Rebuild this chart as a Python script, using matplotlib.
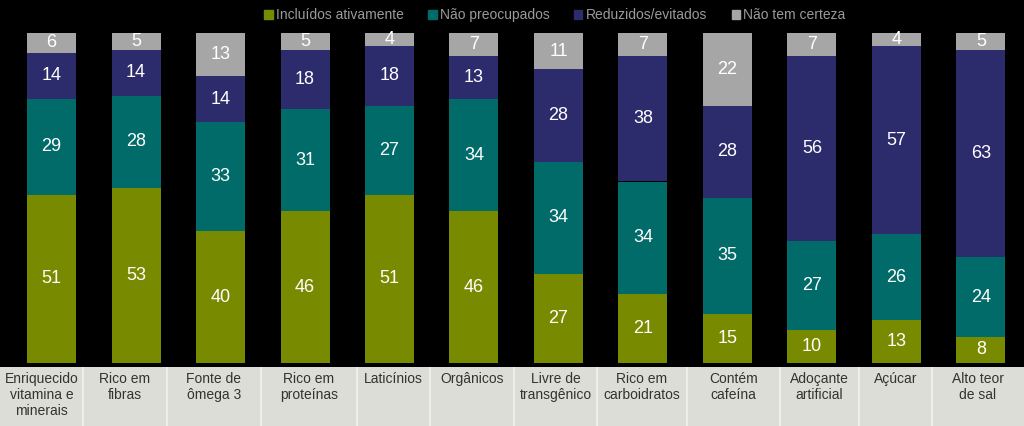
import matplotlib.pyplot as plt
from matplotlib.patches import Rectangle

plt.rcParams['font.family'] = ['Liberation Sans', 'DejaVu Sans']

# dados
categorias = ['Enriquecido\nvitamina e\nminerais', 'Rico em\nfibras', 'Fonte de\nômega 3',
              'Rico em\nproteínas', 'Laticínios', 'Orgânicos', 'Livre de\ntransgênico',
              'Rico em\ncarboidratos', 'Contém\ncafeína', 'Adoçante\nartificial',
              'Açúcar', 'Alto teor\nde sal']
incluidos = [51, 53, 40, 46, 51, 46, 27, 21, 15, 10, 13, 8]
nao_preocupados = [29, 28, 33, 31, 27, 34, 34, 34, 35, 27, 26, 24]
reduzidos = [14, 14, 14, 18, 18, 13, 28, 38, 28, 56, 57, 63]
nao_certeza = [6, 5, 13, 5, 4, 7, 11, 7, 22, 7, 4, 5]

series = [('Incluídos ativamente', incluidos, '#788a00'),
          ('Não preocupados', nao_preocupados, '#006b69'),
          ('Reduzidos/evitados', reduzidos, '#2c2b6c'),
          ('Não tem certeza', nao_certeza, '#a6a6a6')]

# bordas das células da tabela de rótulos (pixels)
bordas = [0, 83, 167, 261, 357, 430, 514, 597, 687, 780, 859, 932, 1024]

W, H = 1024, 426
fig = plt.figure(figsize=(W / 100, H / 100), dpi=100, facecolor='black')

ax = fig.add_axes([0, (H - 363) / H, 1, 330 / H])
ax.set_facecolor('black')
x = range(len(categorias))
base = [0] * len(categorias)
for nome, vals, cor in series:
    bars = ax.bar(x, vals, width=0.58, bottom=base, color=cor, label=nome)
    for b, v in zip(bars, vals):
        ax.text(b.get_x() + b.get_width() / 2, b.get_y() + v / 2, str(v),
                ha='center', va='center', color='white', fontsize=13)
    base = [a + b for a, b in zip(base, vals)]
ax.set_xlim(-0.61, 11.51)
ax.set_ylim(0, 100)
ax.axis('off')

# faixa cinza com os rótulos
axl = fig.add_axes([0, 0, 1, 59 / H])
axl.set_facecolor('#dcddd7')
axl.set_xlim(0, W)
axl.set_ylim(0, 59)
for s in axl.spines.values():
    s.set_visible(False)
axl.set_xticks([])
axl.set_yticks([])
for b in bordas[1:-1]:
    axl.axvline(b, color='#f2f2ee', lw=1.2)
for i, cat in enumerate(categorias):
    cx = (bordas[i] + bordas[i + 1]) / 2
    axl.text(cx, 54, cat, ha='center', va='top', fontsize=10, color='#333333',
             linespacing=1.2)

# legenda
handles = [Rectangle((0, 0), 1, 1, color=c) for _, _, c in series]
fig.legend(handles, [n for n, _, _ in series], loc='upper center',
           bbox_to_anchor=(555 / W, 1.01), ncol=4, frameon=False,
           handlelength=0.6, handleheight=0.6, handletextpad=0.25,
           columnspacing=1.75, fontsize=10, labelcolor='#9a9a9a')

plt.savefig('out.png', dpi=100, facecolor='black')
